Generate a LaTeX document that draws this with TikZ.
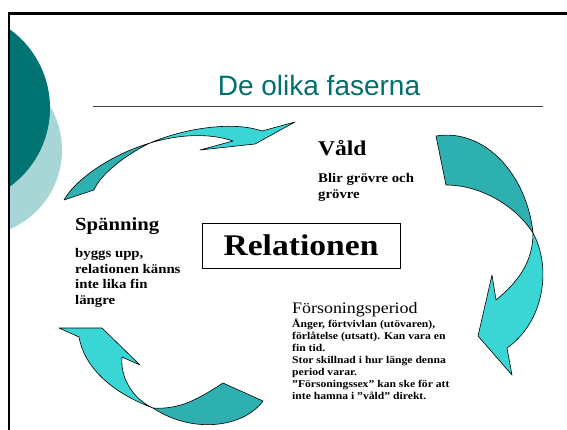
\documentclass[tikz,border=0pt]{standalone}
\usepackage{fontspec}
\setmainfont{Liberation Serif}[FakeStretch=1.12]
\newfontfamily\titlefont{Liberation Sans}
\usetikzlibrary{positioning}
\definecolor{titleteal}{RGB}{0,112,110}
\definecolor{circdark}{RGB}{0,115,114}
\definecolor{circlight}{RGB}{168,214,214}
\definecolor{arrowcyan}{RGB}{58,214,214}
\definecolor{arrowteal}{RGB}{46,176,176}
\tikzset{
  x=1pt, y=-1pt,
  heading/.style={font=\bfseries\fontsize{#1}{#1}\selectfont, inner sep=0pt, anchor=base west},
  heading/.default=19,
  subheading/.style={font=\fontsize{16}{16}\selectfont, inner sep=0pt, anchor=base west},
  note/.style={font=\bfseries\fontsize{13.2}{15.6}\selectfont, align=left, inner sep=0pt},
  smallnote/.style={font=\bfseries\fontsize{10.4}{12}\selectfont, align=left, inner sep=0pt},
  lightpart/.style={fill=arrowcyan, draw=black, line width=0.6pt, line join=round},
  darkpart/.style={fill=arrowteal, draw=black, line width=0.6pt, line join=round},
}

\begin{document}
\begin{tikzpicture}
	\useasboundingbox (0,0) rectangle (567,429);
	\fill[white] (0,0) rectangle (567,429);

	% background circles
	\begin{scope}
		\clip (9,14) rectangle (567,429);
		\fill[circlight] (-24,150) circle (86);
		\fill[circdark] (-47,108) circle (97);
	\end{scope}

	% frame and title
	\draw[line width=2.5pt] (9.2,432) |- (570,13.5);
	\node[font=\titlefont\fontsize{28}{28}\selectfont, text=titleteal, anchor=base, inner sep=0pt] (title) at (319,95) {De olika faserna};
	\draw[black!75, line width=0.8pt] (93,106) -- (543,106);

	% arrows
	\draw[darkpart] (64,200) -- (94,190) .. controls (100,175) and (125,155) .. (150,143) .. controls (110,155) and (75,180) .. (64,200) -- cycle;
	\draw[lightpart] (150,143) .. controls (180,130) and (230,120) .. (262,131) -- (295,122) -- (255,144) -- (200,150) -- (233,141) .. controls (210,133) and (180,134) .. (150,143) -- cycle;

	\draw[darkpart] (436,136) -- (446,185) .. controls (480,185) and (515,205) .. (533,233) .. controls (527,175) and (485,128) .. (436,136) -- cycle;
	\draw[lightpart] (533,233) .. controls (552,268) and (544,322) .. (507,348) -- (512,375) -- (478,336) -- (492,275) -- (496,300) .. controls (518,282) and (533,262) .. (533,233) -- cycle;

	\draw[darkpart] (223,383) -- (263,401) .. controls (243,428) and (192,434) .. (153,408) .. controls (180,410) and (200,398) .. (223,383) -- cycle;
	\draw[lightpart] (153,408) .. controls (110,392) and (84,366) .. (79,337) -- (59,328) -- (102,328) -- (140,365) -- (122,357) .. controls (120,380) and (135,400) .. (153,408) -- cycle;

	% phases (base of a note is its last line)
	\node[heading=21] (vald) at (318,155) {Våld};
	\node[note, below=43pt of vald.base west, anchor=base west] (valdtext) {Blir grövre och\\grövre};

	\node[heading=18.5] (spanning) at (75,230) {Spänning};
	\node[note, below=74.5pt of spanning.base west, anchor=base west] (spanningtext) {byggs upp,\\relationen känns\\inte lika fin\\längre};

	\node[subheading] (forsoning) at (292,313) {Försoningsperiod};
	\node[smallnote, below=86pt of forsoning.base west, anchor=base west] (forsoningtext) {Ånger, förtvivlan (utövaren),\\förlåtelse (utsatt). Kan vara en\\fin tid.\\Stor skillnad i hur länge denna\\period varar.\\"Försoningssex" kan ske för att\\inte hamna i "våld" direkt.};

	% centre
	\node[draw, line width=0.8pt, minimum width=198pt, minimum height=45pt, font=\bfseries\fontsize{30}{30}\selectfont] (rel) at (301,245.5) {Relationen};
\end{tikzpicture}
\end{document}
